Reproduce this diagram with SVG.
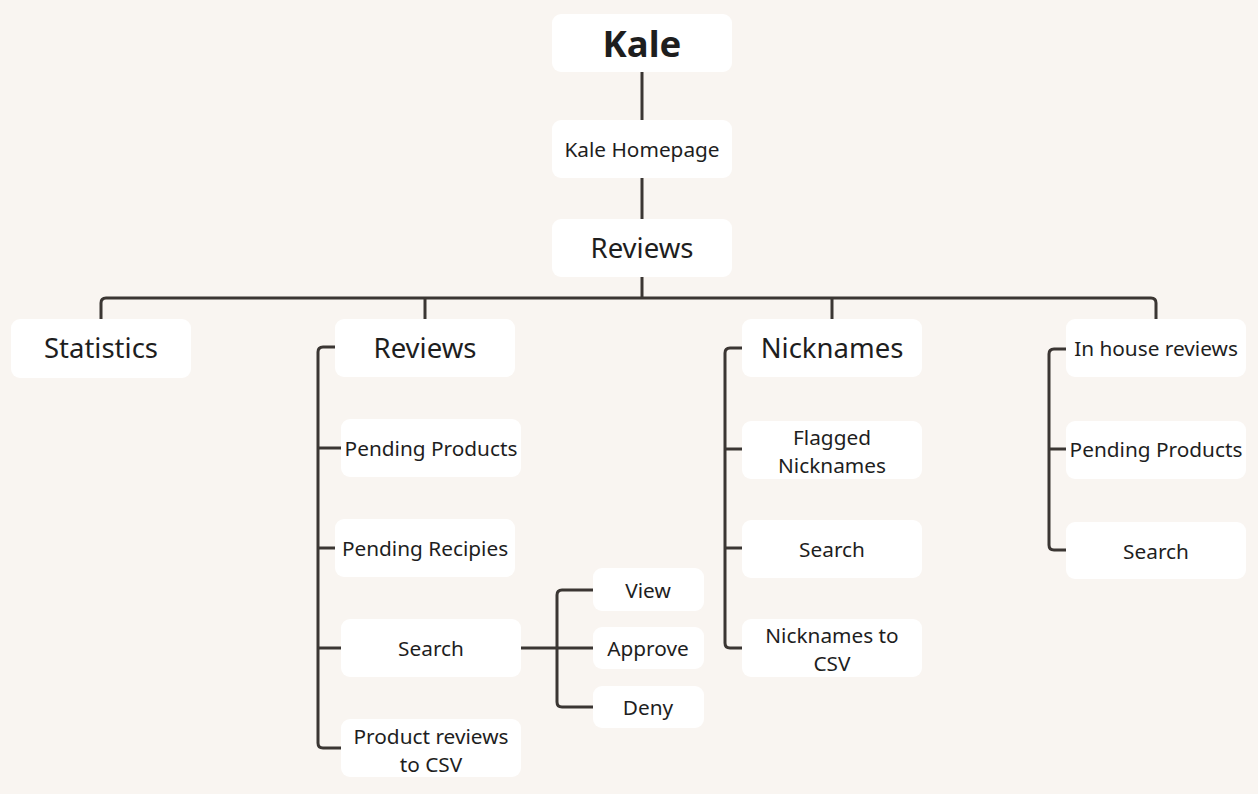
<svg xmlns="http://www.w3.org/2000/svg" width="1258" height="794" viewBox="0 0 1258 794">
<style>
.bg{fill:#f9f5f1}
.box{fill:#ffffff}
.t{font-family:"Noto Sans","Open Sans","Liberation Sans",sans-serif;fill:#1e1e1e;text-anchor:middle}
.s20{font-size:20.8px}
.s26{font-size:27.5px}
.s36{font-size:36.5px;font-weight:bold}
.c{fill:none;stroke:#3b3633;stroke-width:3;stroke-linejoin:round}
</style>
<rect class="bg" x="0" y="0" width="1258" height="794"/>
<g id="connectors">
<path class="c" d="M642 72 V120"/>
<path class="c" d="M642 178 V219"/>
<path class="c" d="M642 277 V298"/>
<path class="c" d="M101 319 V303 Q101 298 106 298 H1151 Q1156 298 1156 303 V319"/>
<path class="c" d="M425 298 V319"/>
<path class="c" d="M832 298 V319"/>
<path class="c" d="M335 347 H323 Q318 347 318 352 V743 Q318 748 323 748 H341"/>
<path class="c" d="M318 448 H341"/>
<path class="c" d="M318 548 H335"/>
<path class="c" d="M318 648 H341"/>
<path class="c" d="M521 648 H593"/>
<path class="c" d="M593 590 H562 Q557 590 557 595 V702 Q557 707 562 707 H593"/>
<path class="c" d="M742 348 H730 Q725 348 725 353 V643 Q725 648 730 648 H742"/>
<path class="c" d="M725 449 H742"/>
<path class="c" d="M725 548 H742"/>
<path class="c" d="M1066 349 H1054 Q1049 349 1049 354 V545 Q1049 550 1054 550 H1066"/>
<path class="c" d="M1049 449 H1066"/>
</g>
<g id="kale"><rect class="box" x="552" y="14" width="180" height="58" rx="9"/><text class="t s36" x="642" y="57">Kale</text></g>
<g id="homepage"><rect class="box" x="552" y="120" width="180" height="58" rx="9"/><text class="t s20" x="642" y="157">Kale Homepage</text></g>
<g id="reviews-root"><rect class="box" x="552" y="219" width="180" height="58" rx="9"/><text class="t s26" x="642" y="258">Reviews</text></g>
<g id="statistics"><rect class="box" x="11" y="319" width="180" height="59" rx="9"/><text class="t s26" x="101" y="358">Statistics</text></g>
<g id="reviews"><rect class="box" x="335" y="319" width="180" height="58" rx="9"/><text class="t s26" x="425" y="358">Reviews</text></g>
<g id="pending-products-1"><rect class="box" x="341" y="419" width="180" height="58" rx="9"/><text class="t s20" x="431" y="456">Pending Products</text></g>
<g id="pending-recipies"><rect class="box" x="335" y="519" width="180" height="58" rx="9"/><text class="t s20" x="425" y="556">Pending Recipies</text></g>
<g id="search-1"><rect class="box" x="341" y="619" width="180" height="58" rx="9"/><text class="t s20" x="431" y="656">Search</text></g>
<g id="product-reviews-csv"><rect class="box" x="341" y="719" width="180" height="58" rx="9"/><text class="t s20" x="431" y="744">Product reviews</text><text class="t s20" x="431" y="772">to CSV</text></g>
<g id="view"><rect class="box" x="593" y="568" width="111" height="43" rx="9"/><text class="t s20" x="648" y="598">View</text></g>
<g id="approve"><rect class="box" x="593" y="627" width="111" height="42" rx="9"/><text class="t s20" x="648" y="656">Approve</text></g>
<g id="deny"><rect class="box" x="593" y="686" width="111" height="42" rx="9"/><text class="t s20" x="648" y="715">Deny</text></g>
<g id="nicknames"><rect class="box" x="742" y="319" width="180" height="58" rx="9"/><text class="t s26" x="832" y="358">Nicknames</text></g>
<g id="flagged-nicknames"><rect class="box" x="742" y="421" width="180" height="58" rx="9"/><text class="t s20" x="832" y="445">Flagged</text><text class="t s20" x="832" y="473">Nicknames</text></g>
<g id="search-2"><rect class="box" x="742" y="520" width="180" height="58" rx="9"/><text class="t s20" x="832" y="557">Search</text></g>
<g id="nicknames-csv"><rect class="box" x="742" y="619" width="180" height="58" rx="9"/><text class="t s20" x="832" y="643">Nicknames to</text><text class="t s20" x="832" y="671">CSV</text></g>
<g id="in-house-reviews"><rect class="box" x="1066" y="319" width="180" height="58" rx="9"/><text class="t s20" x="1156" y="356">In house reviews</text></g>
<g id="pending-products-2"><rect class="box" x="1066" y="421" width="180" height="58" rx="9"/><text class="t s20" x="1156" y="457">Pending Products</text></g>
<g id="search-3"><rect class="box" x="1066" y="522" width="180" height="57" rx="9"/><text class="t s20" x="1156" y="559">Search</text></g>
</svg>
